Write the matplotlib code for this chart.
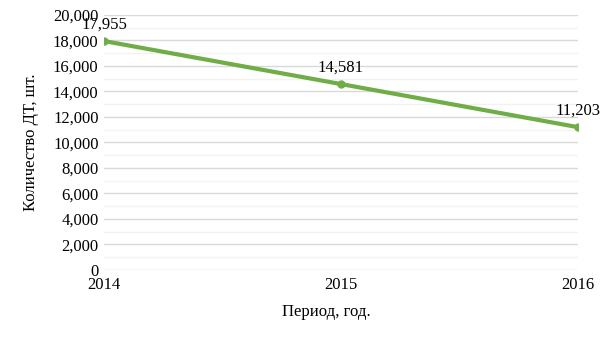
import matplotlib
matplotlib.use("Agg")
import matplotlib.pyplot as plt
from matplotlib.ticker import MultipleLocator, FuncFormatter

years = [2014, 2015, 2016]
counts = [17955, 14581, 11203]

plt.rcParams["font.family"] = ["Liberation Serif", "DejaVu Serif"]

fig = plt.figure(figsize=(6.05, 3.4), dpi=100)
ax = fig.add_axes([0.172, 0.206, 0.783, 0.75])

ax.plot(years, counts, color="#70AD47", lw=3, marker="o", ms=5, zorder=3)
for x, y in zip(years, counts):
    ax.annotate(f"{y:,}", (x, y), xytext=(0, 6), textcoords="offset points",
                ha="center", va="bottom", fontsize=12)

ax.set_xlim(2014, 2016)
ax.set_ylim(0, 20000)
ax.set_xticks(years)
ax.yaxis.set_major_locator(MultipleLocator(2000))
ax.yaxis.set_minor_locator(MultipleLocator(1000))
ax.yaxis.set_major_formatter(FuncFormatter(lambda v, p: f"{int(v):,}"))
ax.grid(axis="y", which="major", color="#d9d9d9", lw=1)
ax.grid(axis="y", which="minor", color="#f2f2f2", lw=1)
ax.set_axisbelow(True)
for s in ax.spines.values():
    s.set_visible(False)
ax.tick_params(which="both", length=0, labelsize=12)
ax.tick_params(axis="x", pad=5)
ax.tick_params(axis="y", pad=4)

ax.set_xlabel("Период, год.", fontsize=12, labelpad=12)
ax.xaxis.set_label_coords(0.47, -0.135)
ax.set_ylabel("Количество ДТ, шт.", fontsize=12, labelpad=10)

fig.savefig("out.png", dpi=100)
